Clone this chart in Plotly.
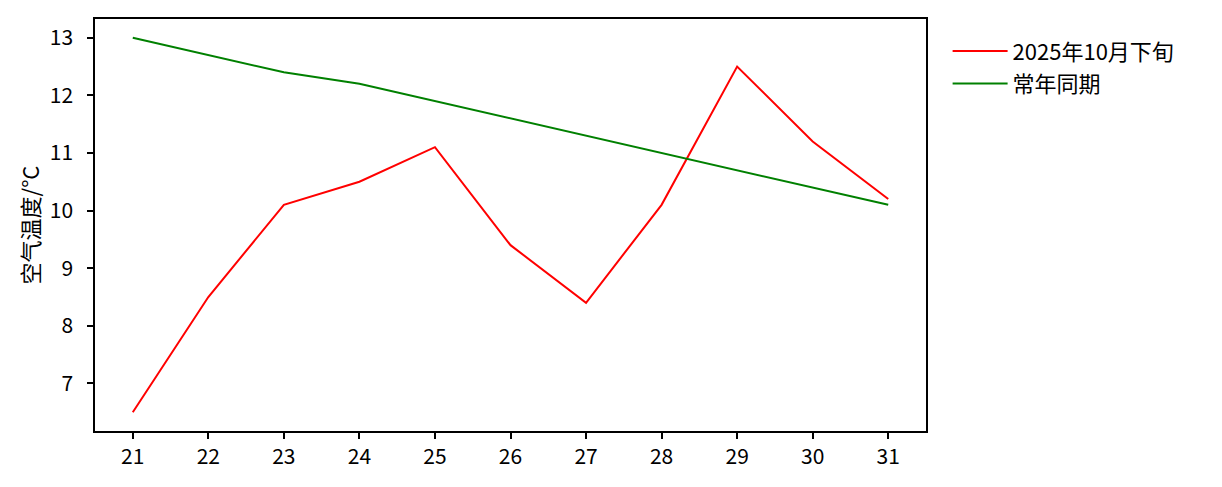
import plotly.graph_objects as go

days = [21, 22, 23, 24, 25, 26, 27, 28, 29, 30, 31]
temp_2025 = [6.5, 8.5, 10.1, 10.5, 11.1, 9.4, 8.4, 10.1, 12.5, 11.2, 10.2]
temp_normal = [13.0, 12.7, 12.4, 12.2, 11.9, 11.6, 11.3, 11.0, 10.7, 10.4, 10.1]
series_names = ["2025年10月下旬", "常年同期"]
y_title = "空气温度/°C"
y_ticks = [7, 8, 9, 10, 11, 12, 13]

FONT = "Noto Sans CJK SC, SimHei, sans-serif"

fig = go.Figure()
fig.add_trace(go.Scatter(x=days, y=temp_2025, mode="lines", name=series_names[0],
                         legendgroup="a",
                         line=dict(color="#ff0000", width=2)))
fig.add_trace(go.Scatter(x=days, y=temp_normal, mode="lines", name=series_names[1],
                         legendgroup="b",
                         line=dict(color="#008000", width=2)))

axis_common = dict(showline=True, linecolor="black", linewidth=1.5, mirror=True,
                   ticks="outside", ticklen=6, tickwidth=1.5, tickcolor="black",
                   showgrid=False, zeroline=False,
                   tickfont=dict(family=FONT, size=21, color="black"))

fig.update_layout(
    width=1222, height=487,
    margin=dict(l=87, r=304, t=9, b=64),
    paper_bgcolor="white", plot_bgcolor="white",
    font=dict(family=FONT, color="black", size=21),
    xaxis=dict(range=[20.5, 31.5], tickmode="array", tickvals=days,
               ticktext=[str(d) for d in days], **axis_common),
    yaxis=dict(range=[6.175, 13.325], tickmode="array", tickvals=y_ticks,
               ticktext=[str(v) for v in y_ticks],
               ticklabelposition="outside", ticklabelstandoff=10,
               title=dict(text=y_title, font=dict(family=FONT, size=22), standoff=4),
               **axis_common),
    legend=dict(x=1.026, y=0.973, xanchor="left", yanchor="top",
                font=dict(family=FONT, size=22), bgcolor="rgba(0,0,0,0)",
                traceorder="grouped", tracegroupgap=1, itemwidth=55),
    showlegend=True,
)

fig.write_html("out.html")
